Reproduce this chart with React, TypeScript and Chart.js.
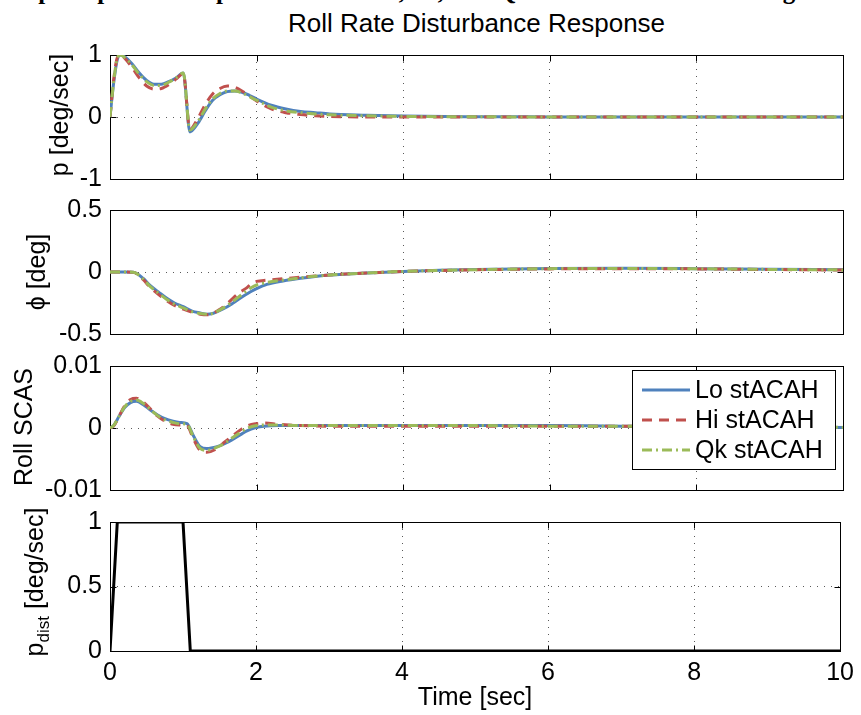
import { useEffect, useRef } from "react";
import { Chart, registerables } from "chart.js";

Chart.register(...registerables);

const FONT = "'Liberation Sans', Arial, Helvetica, sans-serif";
const FIG_W = 861;
const FIG_H = 715;
const AX_LEFT = 110;
const AX_RIGHT = 843;
const PAD = 18;
const GRID = "rgba(0,0,0,0.65)";

// Shared time axis ticks [sec]
const timeTicks = [0, 2, 4, 6, 8, 10];

// Series styling (Lo / Hi / Qk stACAH)
const seriesNames = ["Lo stACAH", "Hi stACAH", "Qk stACAH"];
const seriesColors = ["#4F81BD", "#C0504D", "#9BBB59"];
const seriesDash = [[], [10, 7], [10, 4, 2, 4]];

// Roll rate p [deg/sec]
const rateTicks = [-1, 0, 1];
const rateTime = [0, 0.05, 0.1, 0.14, 0.2, 0.3, 0.4, 0.5, 0.6, 0.7, 0.8, 0.9, 1.0, 1.09, 1.2, 1.3, 1.4, 1.5, 1.6, 1.7, 1.8, 1.9, 2.0, 2.2, 2.4, 2.6, 2.8, 3.0, 3.5, 4.0, 5.0, 6.0, 8.0, 10.0];
const rateLo = [0, 0.55, 0.93, 1.0, 0.97, 0.86, 0.71, 0.59, 0.53, 0.53, 0.57, 0.63, 0.71, -0.24, -0.1, 0.1, 0.27, 0.36, 0.41, 0.42, 0.4, 0.35, 0.29, 0.19, 0.13, 0.09, 0.07, 0.05, 0.03, 0.015, 0.005, 0.002, 0, 0];
const rateHi = [0, 0.6, 0.96, 1.0, 0.95, 0.8, 0.63, 0.5, 0.45, 0.46, 0.52, 0.61, 0.7, -0.2, -0.02, 0.2, 0.37, 0.46, 0.5, 0.48, 0.42, 0.34, 0.26, 0.13, 0.07, 0.04, 0.02, 0.01, 0, 0, 0, 0, 0, 0];
const rateQk = [0, 0.57, 0.95, 1.0, 0.96, 0.84, 0.69, 0.57, 0.51, 0.51, 0.56, 0.63, 0.71, -0.21, -0.07, 0.13, 0.29, 0.38, 0.42, 0.42, 0.39, 0.33, 0.27, 0.16, 0.1, 0.07, 0.05, 0.035, 0.02, 0.01, 0.003, 0.001, 0, 0];

// Bank angle phi [deg]
const bankTicks = [-0.5, 0, 0.5];
const bankTime = [0, 0.2, 0.32, 0.45, 0.55, 0.66, 0.77, 0.88, 1.0, 1.12, 1.23, 1.32, 1.4, 1.5, 1.6, 1.68, 1.78, 1.86, 1.93, 2.0, 2.14, 2.36, 2.6, 2.8, 3.0, 3.5, 4.0, 4.5, 5.0, 6.0, 7.0, 8.0, 9.0, 10.0];
const bankLo = [0, 0, -0.002, -0.05, -0.11, -0.16, -0.21, -0.25, -0.28, -0.315, -0.33, -0.34, -0.335, -0.31, -0.28, -0.25, -0.21, -0.18, -0.155, -0.134, -0.1, -0.072, -0.05, -0.036, -0.025, -0.008, 0.005, 0.014, 0.02, 0.028, 0.03, 0.027, 0.022, 0.018];
const bankHi = [0, 0, -0.003, -0.06, -0.125, -0.18, -0.23, -0.27, -0.3, -0.325, -0.34, -0.345, -0.335, -0.3, -0.255, -0.21, -0.16, -0.13, -0.095, -0.076, -0.066, -0.054, -0.042, -0.032, -0.024, -0.008, 0.004, 0.012, 0.018, 0.025, 0.027, 0.025, 0.02, 0.016];
const bankQk = [0, 0, -0.002, -0.055, -0.118, -0.17, -0.22, -0.26, -0.29, -0.32, -0.335, -0.34, -0.335, -0.305, -0.27, -0.235, -0.19, -0.155, -0.125, -0.105, -0.085, -0.065, -0.047, -0.034, -0.025, -0.008, 0.005, 0.013, 0.019, 0.027, 0.029, 0.026, 0.021, 0.017];

// Roll SCAS command
const scasTicks = [-0.01, 0, 0.01];
const scasTime = [0, 0.05, 0.12, 0.2, 0.28, 0.36, 0.45, 0.55, 0.65, 0.75, 0.86, 0.95, 1.05, 1.14, 1.23, 1.32, 1.46, 1.57, 1.68, 1.78, 1.86, 2.0, 2.1, 2.3, 2.6, 3.0, 4.0, 5.0, 6.0, 7.0, 8.0, 9.0, 10.0];
const scasLo = [0, 0.0004, 0.0018, 0.0033, 0.0041, 0.0043, 0.0038, 0.0029, 0.0021, 0.0015, 0.0011, 0.0009, 0.0007, -0.0013, -0.003, -0.0033, -0.003, -0.0025, -0.0018, -0.0011, -0.0005, 0.0001, 0.0003, 0.0004, 0.0004, 0.0004, 0.0004, 0.0004, 0.0004, 0.0003, 0.0003, 0.0002, 0.0001];
const scasHi = [0, 0.0003, 0.0018, 0.0036, 0.0046, 0.0048, 0.0042, 0.0031, 0.0019, 0.0011, 0.0006, 0.0005, 0.0004, -0.0018, -0.0036, -0.0039, -0.0033, -0.0022, -0.0012, -0.0003, 0.0003, 0.0007, 0.0008, 0.0006, 0.0004, 0.0003, 0.0003, 0.0003, 0.0003, 0.0003, 0.0002, 0.0002, 0.0001];
const scasQk = [0, 0.0004, 0.0018, 0.0034, 0.0043, 0.0045, 0.004, 0.003, 0.002, 0.0013, 0.0009, 0.0007, 0.0006, -0.0015, -0.0033, -0.0036, -0.0031, -0.0024, -0.0015, -0.0007, -0.0001, 0.0004, 0.0005, 0.0005, 0.0004, 0.0004, 0.0004, 0.0004, 0.0003, 0.0003, 0.0003, 0.0002, 0.0001];

// Roll rate disturbance input p_dist [deg/sec]
const distTicks = [0, 0.5, 1];
const distTime = [0, 0.1, 1.0, 1.1, 10];
const distRate = [0, 1, 1, 0, 0];

type Part = { text: string; size: number; shift: number };
type Series = { label: string; values: number[]; color: string; dash: number[] };
type PanelSpec = {
  top: number;
  bottom: number;
  time: number[];
  series: Series[];
  yMin: number;
  yMax: number;
  yTicks: number[];
  yTitle: Part[];
  yTitleX: number;
  yTitleY: number;
  legend?: boolean;
  last?: boolean;
};

const trio = (vals: number[][]): Series[] =>
  vals.map((v, i) => ({ label: seriesNames[i], values: v, color: seriesColors[i], dash: seriesDash[i] }));

const PANELS: PanelSpec[] = [
  {
    top: 50, bottom: 184, time: rateTime, series: trio([rateLo, rateHi, rateQk]),
    yMin: -1, yMax: 1, yTicks: rateTicks,
    yTitle: [{ text: "p [deg/sec]", size: 25, shift: 0 }], yTitleX: 68, yTitleY: 115,
  },
  {
    top: 205, bottom: 339, time: bankTime, series: trio([bankLo, bankHi, bankQk]),
    yMin: -0.5, yMax: 0.5, yTicks: bankTicks,
    yTitle: [{ text: "\u03D5 [deg]", size: 25, shift: 0 }], yTitleX: 45, yTitleY: 272,
  },
  {
    top: 361, bottom: 495, time: scasTime, series: trio([scasLo, scasHi, scasQk]),
    yMin: -0.01, yMax: 0.01, yTicks: scasTicks,
    yTitle: [{ text: "Roll SCAS", size: 25, shift: 0 }], yTitleX: 32, yTitleY: 427,
    legend: true,
  },
  {
    top: 517, bottom: 651, time: distTime,
    series: [{ label: "p_dist", values: distRate, color: "#000000", dash: [] }],
    yMin: 0, yMax: 1, yTicks: distTicks,
    yTitle: [
      { text: "p", size: 25, shift: 0 },
      { text: "dist", size: 17, shift: 6 },
      { text: " [deg/sec]", size: 25, shift: 0 },
    ],
    yTitleX: 43, yTitleY: 582,
    last: true,
  },
];

function drawVerticalText(ctx: CanvasRenderingContext2D, x: number, y: number, parts: Part[]) {
  ctx.save();
  ctx.translate(x, y);
  ctx.rotate(-Math.PI / 2);
  ctx.fillStyle = "#000";
  ctx.textBaseline = "alphabetic";
  ctx.textAlign = "left";
  const widths = parts.map((p) => {
    ctx.font = `${p.size}px ${FONT}`;
    return ctx.measureText(p.text).width;
  });
  const total = widths.reduce((a, b) => a + b, 0);
  let cx = -total / 2;
  parts.forEach((p, i) => {
    ctx.font = `${p.size}px ${FONT}`;
    ctx.fillText(p.text, cx, p.shift);
    cx += widths[i];
  });
  ctx.restore();
}

function buildChart(canvas: HTMLCanvasElement, spec: PanelSpec) {
  const tickLen = 6;

  const framePlugin = {
    id: "frame",
    beforeDatasetsDraw(chart: any) {
      const { ctx, chartArea: a } = chart;
      const xs = chart.scales.x;
      const ys = chart.scales.y;
      const L = Math.round(a.left) + 0.5;
      const R = Math.round(a.right) + 0.5;
      const T = Math.round(a.top) + 0.5;
      const B = Math.round(a.bottom) + 0.5;
      ctx.save();
      ctx.strokeStyle = "#000";
      ctx.lineWidth = 1;
      ctx.setLineDash([]);
      ctx.beginPath();
      timeTicks.forEach((v) => {
        const px = Math.round(xs.getPixelForValue(v)) + 0.5;
        ctx.moveTo(px, T);
        ctx.lineTo(px, T + tickLen);
        ctx.moveTo(px, B);
        ctx.lineTo(px, B - tickLen);
      });
      spec.yTicks.forEach((v) => {
        const py = Math.round(ys.getPixelForValue(v)) + 0.5;
        ctx.moveTo(L, py);
        ctx.lineTo(L + tickLen, py);
        ctx.moveTo(R, py);
        ctx.lineTo(R - tickLen, py);
      });
      ctx.stroke();
      ctx.strokeRect(L, T, R - L, B - T);
      ctx.restore();
    },
    afterDraw(chart: any) {
      drawVerticalText(chart.ctx, spec.yTitleX, spec.yTitleY - (spec.top - PAD), spec.yTitle);
    },
  };

  const legendPlugin = {
    id: "boxLegend",
    afterDraw(chart: any) {
      if (!spec.legend) return;
      const { ctx } = chart;
      const offY = spec.top - PAD;
      const bx = 632.5;
      const by = 370.5 - offY;
      const bw = 203;
      const bh = 99;
      ctx.save();
      ctx.fillStyle = "#fff";
      ctx.fillRect(bx, by, bw, bh);
      ctx.strokeStyle = "#000";
      ctx.lineWidth = 1;
      ctx.setLineDash([]);
      ctx.strokeRect(bx, by, bw, bh);
      chart.data.datasets.forEach((ds: any, i: number) => {
        const ry = by + 19.5 + i * 30;
        ctx.strokeStyle = ds.borderColor;
        ctx.lineWidth = ds.borderWidth;
        ctx.setLineDash(ds.borderDash || []);
        ctx.beginPath();
        ctx.moveTo(642, ry);
        ctx.lineTo(690, ry);
        ctx.stroke();
        ctx.setLineDash([]);
        ctx.fillStyle = "#000";
        ctx.font = `25px ${FONT}`;
        ctx.textBaseline = "middle";
        ctx.textAlign = "left";
        ctx.fillText(ds.label, 695, ry + 1);
      });
      ctx.restore();
    },
  };

  const n = spec.series.length;
  const datasets = spec.series.map((s, i) => ({
    label: s.label,
    data: spec.time.map((t, k) => ({ x: t, y: s.values[k] })),
    borderColor: s.color,
    borderDash: s.dash,
    borderWidth: 3,
    pointRadius: 0,
    fill: false,
    tension: 0,
    cubicInterpolationMode: spec.last ? "default" : "monotone",
    order: n - i,
  }));

  const tickFont = { size: 25, family: FONT, lineHeight: 1.2 };

  return new Chart(canvas, {
    type: "line",
    data: { datasets } as any,
    plugins: [framePlugin, legendPlugin],
    options: {
      animation: false,
      responsive: false,
      maintainAspectRatio: false,
      events: [],
      layout: { padding: { left: 0, right: FIG_W - AX_RIGHT, top: PAD, bottom: spec.last ? 0 : PAD } },
      plugins: { legend: { display: false }, tooltip: { enabled: false }, title: { display: false } },
      scales: {
        x: {
          type: "linear",
          min: 0,
          max: 10,
          afterBuildTicks: (s: any) => {
            s.ticks = timeTicks.map((v) => ({ value: v }));
          },
          afterFit: (s: any) => {
            s.height = spec.last ? FIG_H - spec.bottom : 0;
          },
          ticks: {
            display: !!spec.last,
            color: "#000",
            font: tickFont,
            padding: 7,
            maxRotation: 0,
            autoSkip: false,
            callback: (v: any) => String(v),
          },
          grid: { color: GRID, lineWidth: 1, drawTicks: false },
          border: { display: false, dash: [1, 6] },
          title: {
            display: !!spec.last,
            text: "Time [sec]",
            color: "#000",
            font: { size: 25, family: FONT, lineHeight: 1.2 },
            padding: { top: 0, bottom: 2 },
          },
        },
        y: {
          type: "linear",
          min: spec.yMin,
          max: spec.yMax,
          afterBuildTicks: (s: any) => {
            s.ticks = spec.yTicks.map((v) => ({ value: v }));
          },
          afterFit: (s: any) => {
            s.width = AX_LEFT;
          },
          ticks: {
            color: "#000",
            font: tickFont,
            padding: 8,
            autoSkip: false,
            callback: (v: any) => String(v),
          },
          grid: { color: GRID, lineWidth: 1, drawTicks: false },
          border: { display: false, dash: [1, 6] },
        },
      },
    } as any,
  });
}

function Panel({ spec }: { spec: PanelSpec }) {
  const ref = useRef<HTMLCanvasElement>(null);
  const canvasTop = spec.top - PAD;
  const canvasH = (spec.last ? FIG_H : spec.bottom + PAD) - canvasTop;
  useEffect(() => {
    if (!ref.current) return;
    const chart = buildChart(ref.current, spec);
    return () => chart.destroy();
  }, [spec]);
  return (
    <canvas
      ref={ref}
      width={FIG_W}
      height={canvasH}
      style={{ position: "absolute", left: 0, top: canvasTop, width: FIG_W, height: canvasH }}
    />
  );
}

export default function App() {
  return (
    <div
      style={{
        position: "absolute",
        left: 0,
        top: 0,
        width: FIG_W,
        height: FIG_H,
        background: "#fff",
        overflow: "hidden",
      }}
    >
      <div
        style={{
          position: "absolute",
          left: 5,
          top: -22,
          whiteSpace: "nowrap",
          font: "bold 25px 'Liberation Serif', 'Times New Roman', serif",
          lineHeight: "25px",
          color: "#000",
        }}
      >
        Step Response Comparison of the Lo, Hi, and Qk stACAH Roll Axis Designs Tuning
      </div>
      <div
        style={{
          position: "absolute",
          left: 0,
          width: AX_LEFT + AX_RIGHT,
          top: 10,
          textAlign: "center",
          whiteSpace: "nowrap",
          font: `26px ${FONT}`,
          lineHeight: "26px",
          color: "#000",
        }}
      >
        Roll Rate Disturbance Response
      </div>
      {PANELS.map((p, i) => (
        <Panel key={i} spec={p} />
      ))}
    </div>
  );
}
